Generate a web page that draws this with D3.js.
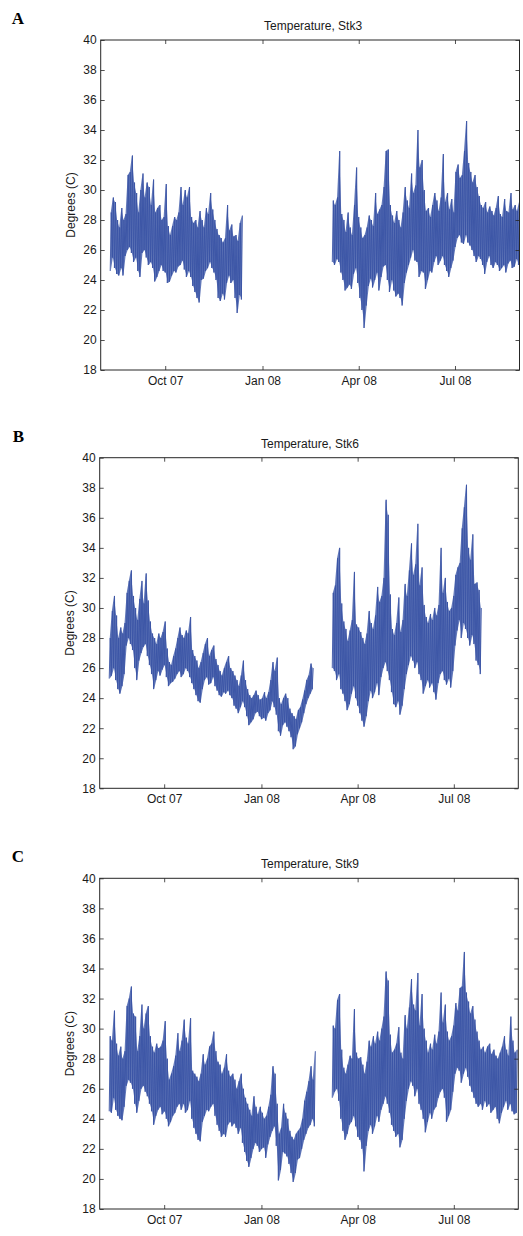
<!DOCTYPE html>
<html>
<head>
<meta charset="utf-8">
<script src="https://cdn.jsdelivr.net/npm/d3@7/dist/d3.min.js"></script>
<style>
  html, body { margin: 0; padding: 0; background: #fff; }
  svg { display: block; }
</style>
</head>
<body>
<svg id="chart" width="523" height="1236"></svg>
<script>
// Hourly water temperature summarised as 2-day low/high pairs per deployment.
// Each deployment: start date, then one low and one high value per 2-day bin.

const xDomain = ["2007-08-01", "2008-08-31"];
const xTickDates = ["2007-10-01", "2008-01-01", "2008-04-01", "2008-07-01"];
const xTickLabels = ["Oct 07", "Jan 08", "Apr 08", "Jul 08"];
const yTicks = [18, 20, 22, 24, 26, 28, 30, 32, 34, 36, 38, 40];
const stations = ["Stk3", "Stk6", "Stk9"];
const panelLetters = ["A", "B", "C"];

// Stk3
const stk3aStart = "2007-08-10";
const stk3aHi = [
  28.5, 29.5, 29.2, 28.0, 27.5, 28.8, 28.0, 28.4, 31.0, 31.2,
  32.3, 30.5, 29.8, 28.5, 30.0, 31.1, 29.5, 30.5, 30.2, 29.0,
  30.7, 28.5, 28.8, 29.0, 28.0, 28.2, 30.4, 27.6, 27.0, 27.6,
  28.2, 28.0, 28.5, 30.2, 29.0, 30.0, 29.5, 30.2, 28.2, 27.8,
  28.0, 27.5, 28.6, 28.0, 27.5, 28.8, 28.4, 29.8, 28.7, 28.0,
  27.4, 27.0, 26.8, 26.5, 26.8, 29.0, 27.3, 27.7, 26.9, 27.0,
  26.6, 27.8, 28.3
];
const stk3aLo = [
  24.6, 25.5, 24.8, 24.4, 24.3, 24.8, 24.3, 25.6, 26.0, 26.2,
  25.8, 25.2, 25.5, 24.6, 24.2, 25.8, 26.0, 25.5, 25.0, 25.2,
  24.8, 23.9, 24.2, 24.6, 25.0, 24.6, 24.5, 23.8, 23.9, 24.3,
  24.6, 24.5, 24.9, 25.0, 25.3, 24.7, 24.2, 24.6, 24.2, 23.6,
  23.2, 22.8, 22.5, 24.0, 24.1, 24.6, 24.8, 25.2, 24.8, 24.5,
  24.0, 22.8, 22.6, 23.1, 22.7, 23.8, 24.3, 23.8, 24.0, 22.8,
  21.8, 23.0, 22.7
];
const stk3bStart = "2008-03-07";
const stk3bHi = [
  29.3, 29.0, 29.5, 32.6, 28.4, 28.0, 27.2, 28.5, 27.5, 27.0,
  29.0, 31.5, 28.2, 27.5, 26.8, 27.0, 27.5, 28.3, 28.0, 27.6,
  29.8, 28.4, 28.7, 29.0, 30.2, 32.6, 32.7, 29.0, 28.3, 27.8,
  28.6, 28.0, 27.5, 28.5, 30.2, 29.3, 28.8, 31.1, 29.8, 30.3,
  34.0, 31.5, 32.0, 30.0, 28.6, 28.8, 28.2, 29.0, 29.8, 29.3,
  28.6, 29.5, 32.4, 29.2, 29.8, 28.7, 29.4, 28.5, 31.2, 31.7,
  30.8, 31.0, 32.6, 34.6, 31.8, 31.2, 30.5, 31.0, 30.2, 29.6,
  29.0, 28.8, 29.2, 28.5, 28.9, 28.6, 28.3, 28.8, 29.6, 28.4,
  28.2, 29.4, 28.6, 28.5, 29.8, 28.7, 29.0, 28.6, 29.2
];
const stk3bLo = [
  25.2, 25.0, 25.4, 25.2, 24.5, 24.0, 23.3, 23.5, 23.7, 23.4,
  24.4, 24.8, 23.8, 22.8, 22.0, 20.8, 22.3, 23.6, 24.1, 23.5,
  24.0, 24.5, 23.3, 24.2, 24.9, 25.0, 24.0, 23.2, 24.0, 23.3,
  22.9, 23.1, 22.8, 22.3, 23.8, 24.5, 25.0, 25.5, 26.0, 25.3,
  25.2, 24.2, 24.6, 24.5, 23.4, 24.0, 24.6, 24.5, 25.2, 25.6,
  25.0, 25.3, 25.6, 25.0, 24.6, 24.2, 24.8, 25.3, 26.2, 26.8,
  27.0, 26.5, 26.4, 27.0, 26.5, 26.3, 26.0, 25.6, 25.2, 25.6,
  25.4, 25.0, 24.4, 25.2, 25.6, 25.0, 24.8, 25.2, 25.0, 24.6,
  24.8, 25.0, 24.5, 25.1, 25.3, 24.8, 24.9, 25.4, 25.0
];

// Stk6
const stk6aStart = "2007-08-10";
const stk6aHi = [
  28.0, 29.8, 30.8, 29.5, 28.0, 28.7, 28.3, 29.0, 31.0, 31.8,
  32.5, 30.8, 30.0, 29.2, 30.6, 31.8, 30.3, 32.3, 30.5, 29.1,
  28.3, 28.0, 27.6, 28.3, 28.0, 28.4, 29.1, 27.3, 26.4, 26.2,
  26.8, 27.3, 28.0, 28.7, 28.2, 28.0, 28.5, 28.3, 29.4, 27.2,
  26.8, 26.5, 26.0, 26.4, 27.0, 27.6, 28.0, 26.8, 27.2, 27.5,
  26.6, 26.2, 25.8, 25.5, 26.0, 26.4, 26.8, 26.0, 25.8, 25.5,
  25.2, 24.8, 25.5, 26.5, 25.2, 24.6, 24.2, 24.0, 24.2, 24.5,
  24.2, 23.9, 24.0, 24.4, 24.0, 24.4, 25.2, 26.4, 25.8, 26.7,
  24.0, 23.6, 24.0, 24.3, 24.0, 23.3, 23.0, 22.8, 22.6, 23.2,
  23.4, 23.9, 24.5, 25.2, 25.5, 26.3, 26.0
];
const stk6aLo = [
  25.3, 25.5, 26.0, 25.2, 24.6, 24.3, 24.8, 25.6, 27.5, 28.0,
  27.6, 27.2, 26.0, 25.2, 26.5, 27.0, 27.4, 27.6, 26.8, 26.2,
  25.6, 24.6, 25.2, 25.8, 25.5, 25.9, 26.2, 25.4, 24.8, 25.0,
  25.1, 25.3, 25.6, 25.8, 25.4, 25.6, 26.0, 25.8, 25.4, 25.0,
  24.6, 24.2, 23.8, 23.7, 24.6, 25.2, 25.4, 24.9, 25.0, 25.4,
  24.8, 24.5, 24.2, 24.1, 24.4, 24.3, 24.5, 24.2, 24.0, 23.5,
  23.3, 23.0, 23.4, 23.8, 23.4, 22.8, 22.2, 22.4, 22.6, 23.0,
  23.1, 22.8, 22.6, 22.7, 22.5, 23.0, 23.2, 23.8, 23.4, 22.9,
  21.8, 21.5, 22.2, 22.4, 22.1, 21.8, 21.4, 20.6, 20.8, 21.6,
  22.0, 22.4, 23.0, 23.6, 24.0, 24.3, 24.6
];
const stk6bStart = "2008-03-08";
const stk6bHi = [
  31.0, 31.5, 33.3, 34.0, 30.3, 29.1, 28.6, 27.8, 28.5, 29.2,
  32.4, 28.9, 28.7, 28.4, 28.0, 27.6, 28.3, 29.8, 29.0, 28.6,
  29.5, 31.4, 30.4, 30.8, 32.0, 37.2, 36.2, 30.9, 28.6, 28.2,
  29.0, 30.7, 28.4, 29.2, 31.6, 30.8, 32.5, 34.3, 32.2, 32.9,
  35.6, 31.5, 32.7, 30.2, 29.4, 29.0, 29.6, 29.2, 30.0, 29.5,
  30.2, 34.0, 31.0, 32.0, 30.4, 29.8, 30.0, 30.8, 32.2, 32.7,
  33.0, 35.3, 36.7, 38.2, 34.0, 33.2, 34.9, 31.6, 31.7, 31.2,
  30.0
];
const stk6bLo = [
  26.0, 25.8, 25.2, 25.6, 24.6, 24.3, 23.8, 23.2, 23.6, 24.3,
  24.8, 24.0, 23.5, 23.0, 22.5, 22.1, 22.8, 23.8, 24.5, 24.0,
  24.4, 25.0, 24.2, 25.4, 26.0, 26.4, 25.8, 25.2, 24.4, 23.6,
  23.4, 23.8, 22.9, 23.5, 24.6, 25.6, 26.2, 26.8, 26.5, 26.0,
  26.4, 25.6, 25.2, 24.3, 24.8, 25.2, 24.7, 25.0, 24.4, 23.9,
  25.0, 25.6, 25.8, 25.2, 24.9, 25.3, 24.7, 25.8, 27.5, 28.5,
  29.2, 28.0, 29.0, 28.6, 28.0, 27.5, 28.2, 27.6, 26.5, 26.2,
  25.6
];

// Stk9
const stk9aStart = "2007-08-10";
const stk9aHi = [
  29.5, 29.2, 31.2, 29.0, 28.2, 28.8, 28.0, 28.5, 31.5, 32.0,
  32.8, 31.0, 30.8, 28.5, 29.5, 31.6, 30.0, 31.0, 31.5, 29.5,
  28.8, 28.4, 29.0, 28.7, 28.8, 29.2, 30.5, 28.0, 26.6, 27.0,
  27.5, 28.2, 29.7, 28.5, 29.2, 30.6, 29.4, 29.0, 30.7, 27.2,
  27.0, 26.8, 26.5, 27.0, 28.3, 27.6, 28.0, 28.8, 29.0, 29.8,
  28.5, 27.8, 27.6, 27.0, 27.4, 28.3, 27.2, 26.8, 27.0, 26.6,
  26.0, 26.5, 27.0, 26.0, 25.4, 25.0, 24.6, 24.2, 25.5, 24.8,
  24.3, 24.8, 24.4, 24.0, 24.2, 24.8, 25.6, 27.5, 27.0, 25.0,
  23.0, 23.4, 25.0, 24.4, 24.0, 23.2, 22.8, 22.6, 23.0, 23.2,
  23.4, 24.0, 25.2, 25.8, 26.5, 27.5, 26.6, 28.5
];
const stk9aLo = [
  24.5, 24.4, 25.4, 24.6, 24.2, 24.0, 23.9, 24.8, 26.2, 26.6,
  26.4, 26.0, 25.0, 24.4, 25.2, 26.0, 26.2, 25.8, 25.5, 25.0,
  24.5, 23.6, 24.2, 24.6, 24.8, 24.3, 24.5, 24.0, 23.5, 23.8,
  24.2, 24.4, 24.8, 25.0, 24.6, 25.0, 24.4, 24.6, 25.2, 24.0,
  23.4, 23.0, 22.6, 22.5, 23.8, 24.2, 24.6, 24.5, 24.8, 25.0,
  24.2, 23.6, 23.2, 22.8, 23.0, 22.8, 23.6, 23.8, 23.5, 23.7,
  23.4, 23.0, 23.4, 22.4, 21.8, 21.2, 20.8, 21.4, 22.0, 22.4,
  22.2, 21.8, 22.0, 22.1, 21.4, 22.3, 22.8, 23.2, 23.5, 22.2,
  19.9, 20.6, 21.8, 21.7, 21.5, 21.0, 20.4, 19.8, 20.4, 21.3,
  21.4, 22.0, 22.6, 23.0, 23.4, 23.6, 24.0, 23.5
];
const stk9bStart = "2008-03-08";
const stk9bHi = [
  30.2, 30.0, 31.9, 32.3, 28.6, 27.4, 27.0, 27.6, 28.2, 28.0,
  31.3, 28.4, 28.0, 28.1, 27.6, 27.0, 27.8, 29.2, 28.8, 29.5,
  29.0, 29.8, 29.2, 30.0, 30.8, 33.8, 33.2, 29.6, 28.4, 28.6,
  29.0, 30.1, 28.4, 28.0, 30.9, 30.0, 31.4, 33.3, 31.6, 31.2,
  33.7, 30.2, 32.3, 30.0, 29.2, 28.4, 29.0, 28.6, 29.6, 29.0,
  29.8, 32.4, 30.4, 31.6, 29.8, 29.2, 29.5, 30.2, 31.7, 31.2,
  32.7, 32.8, 35.1, 32.4, 31.8, 31.0, 31.5, 30.6, 29.8, 29.2,
  28.6, 28.8, 28.4, 28.8, 29.0, 28.3, 28.6, 28.2, 28.0, 28.4,
  28.8, 29.5, 28.6, 28.2, 30.8, 29.2, 28.4, 28.6
];
const stk9bLo = [
  25.4, 25.8, 26.0, 25.2, 24.0, 23.2, 22.6, 23.0, 23.6, 23.8,
  24.2, 23.5, 22.8, 22.6, 22.0, 20.5, 22.2, 23.2, 23.6, 23.0,
  23.5, 24.2, 23.8, 24.6, 25.0, 25.5, 25.0, 24.4, 23.6, 23.2,
  22.8, 23.0, 22.1, 22.6, 24.0, 25.2, 26.0, 26.5, 26.2, 25.5,
  26.0, 25.0, 24.6, 24.0, 23.1, 23.8, 24.4, 24.0, 24.6, 24.8,
  25.4, 25.8, 26.0, 25.4, 23.8, 24.2, 24.6, 25.8, 27.0, 27.4,
  27.2, 26.4, 27.0, 27.4, 26.8, 26.2, 25.8, 25.4, 25.0, 24.8,
  25.0, 24.6, 25.2, 24.8, 25.0, 24.4, 24.6, 24.8, 24.0, 23.7,
  24.4, 24.8, 25.2, 24.6, 25.0, 24.5, 24.3, 24.4
];

const deployments = [
  [
    { start: stk3aStart, lo: stk3aLo, hi: stk3aHi },
    { start: stk3bStart, lo: stk3bLo, hi: stk3bHi }
  ],
  [
    { start: stk6aStart, lo: stk6aLo, hi: stk6aHi },
    { start: stk6bStart, lo: stk6bLo, hi: stk6bHi }
  ],
  [
    { start: stk9aStart, lo: stk9aLo, hi: stk9aHi },
    { start: stk9bStart, lo: stk9bLo, hi: stk9bHi }
  ]
];

// Axes boxes for the three stacked panels
const panelBoxes = [
  { left: 100.7, top: 40.0, right: 519.5, bottom: 370.0 },
  { left: 99.7, top: 457.7, right: 518.3, bottom: 788.3 },
  { left: 99.7, top: 878.3, right: 518.3, bottom: 1209.0 }
];

const lineColor = "#3a54a5";
const bandColor = "#4660ad";
const axisColor = "#262626";
const sansFont = "'Liberation Sans', Arial, Helvetica, sans-serif";
const serifFont = "'Liberation Serif', 'Times New Roman', serif";
const DAY = 864e5;

const svg = d3.select("#chart");

function parseUtc(s) { return new Date(Date.parse(s)); }

// Expand low/high bins into an alternating trace, one vertex per day.
function traceOf(dep) {
  const t0 = Date.parse(dep.start);
  const pts = [];
  const n = Math.min(dep.lo.length, dep.hi.length);
  for (let i = 0; i < n; i++) {
    pts.push([t0 + 2 * i * DAY, dep.lo[i]]);
    pts.push([t0 + (2 * i + 1) * DAY, dep.hi[i]]);
  }
  return pts;
}

// Low-to-high range of each bin, placed inside the bin.
function bandOf(dep) {
  const t0 = Date.parse(dep.start);
  const n = Math.min(dep.lo.length, dep.hi.length);
  const rows = [];
  for (let i = 0; i < n; i++) rows.push([t0 + (2 * i + 0.5) * DAY, dep.lo[i], dep.hi[i]]);
  return rows;
}

panelBoxes.forEach((box, p) => {
  const w = box.right - box.left;
  const h = box.bottom - box.top;

  const x = d3.scaleUtc()
    .domain(xDomain.map(parseUtc))
    .range([0, w]);
  const y = d3.scaleLinear()
    .domain([d3.min(yTicks), d3.max(yTicks)])
    .range([h, 0]);

  const g = svg.append("g").attr("transform", `translate(${box.left},${box.top})`);

  const clipId = "clip" + p;
  g.append("clipPath").attr("id", clipId)
    .append("rect").attr("width", w).attr("height", h);

  const line = d3.line()
    .x(d => x(new Date(d[0])))
    .y(d => y(d[1]));
  const band = d3.area()
    .x(d => x(new Date(d[0])))
    .y0(d => y(d[1]))
    .y1(d => y(d[2]));

  const plot = g.append("g").attr("clip-path", `url(#${clipId})`);
  deployments[p].forEach(dep => {
    plot.append("path")
      .attr("d", band(bandOf(dep)))
      .attr("fill", bandColor)
      .attr("fill-opacity", 0.85)
      .attr("stroke", "none");
    plot.append("path")
      .attr("d", line(traceOf(dep)))
      .attr("fill", "none")
      .attr("stroke", lineColor)
      .attr("stroke-width", 0.9)
      .attr("stroke-linejoin", "miter")
      .attr("stroke-miterlimit", 2);
  });

  const tickDates = xTickDates.map(parseUtc);
  const fmt = (d) => xTickLabels[tickDates.findIndex(t => +t === +d)];

  const styleAxis = (sel) => {
    sel.select(".domain").remove();
    sel.selectAll(".tick line").attr("stroke", axisColor).attr("stroke-width", 0.8);
    sel.selectAll(".tick text")
      .attr("fill", "#1a1a1a")
      .style("font-family", sansFont)
      .style("font-size", "12px");
  };

  g.append("g")
    .attr("transform", `translate(0,${h})`)
    .call(d3.axisBottom(x).tickValues(tickDates).tickFormat(fmt)
      .tickSizeInner(-4).tickSizeOuter(0).tickPadding(6))
    .call(styleAxis);
  g.append("g")
    .call(d3.axisTop(x).tickValues(tickDates).tickFormat("")
      .tickSizeInner(-4).tickSizeOuter(0))
    .call(styleAxis);
  g.append("g")
    .call(d3.axisLeft(y).tickValues(yTicks).tickFormat(d3.format("d"))
      .tickSizeInner(-4).tickSizeOuter(0).tickPadding(4))
    .call(styleAxis);
  g.append("g")
    .attr("transform", `translate(${w},0)`)
    .call(d3.axisRight(y).tickValues(yTicks).tickFormat("")
      .tickSizeInner(-4).tickSizeOuter(0))
    .call(styleAxis);

  g.append("rect")
    .attr("width", w).attr("height", h)
    .attr("fill", "none")
    .attr("stroke", axisColor)
    .attr("stroke-width", 1);

  g.append("text")
    .attr("x", w / 2 + (p === 0 ? 3 : 1))
    .attr("y", -10)
    .attr("text-anchor", "middle")
    .style("font-family", sansFont)
    .style("font-size", "12px")
    .attr("fill", "#1a1a1a")
    .text("Temperature, " + stations[p]);

  g.append("text")
    .attr("transform", `translate(-25.4,${h / 2}) rotate(-90)`)
    .attr("text-anchor", "middle")
    .style("font-family", sansFont)
    .style("font-size", "12px")
    .attr("fill", "#1a1a1a")
    .text("Degrees (C)");

  svg.append("text")
    .attr("x", 11.7 + (p === 1 ? 1 : 0))
    .attr("y", box.top - 16)
    .style("font-family", serifFont)
    .style("font-size", "17px")
    .style("font-weight", "bold")
    .attr("fill", "#000")
    .text(panelLetters[p]);
});
</script>
</body>
</html>
